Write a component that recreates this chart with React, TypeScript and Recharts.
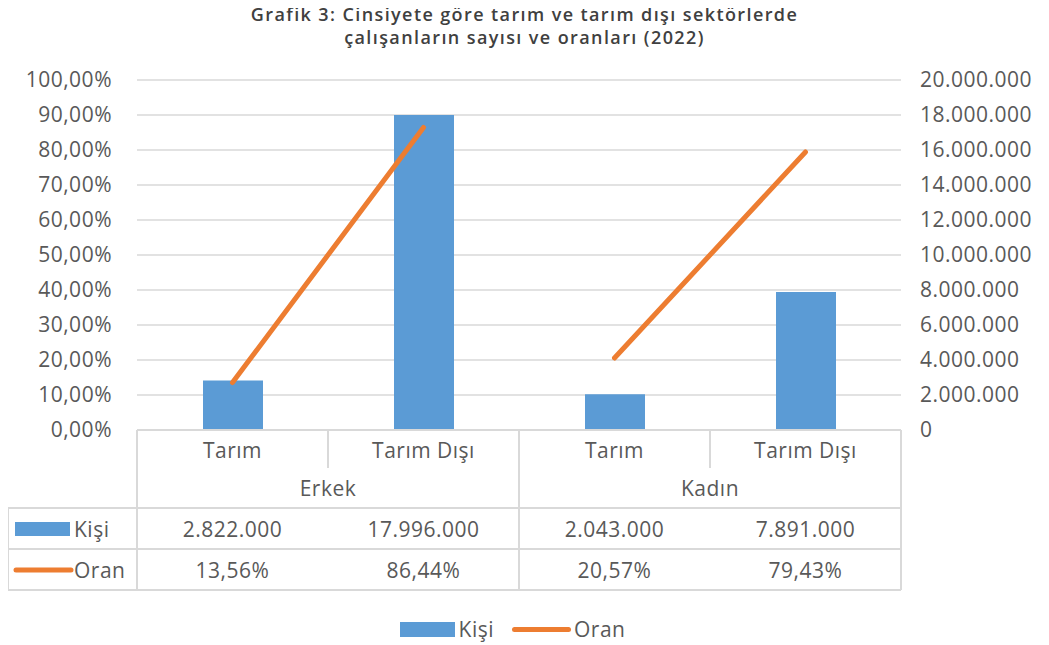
import { ComposedChart, Bar, Line, XAxis, YAxis, CartesianGrid, Legend } from 'recharts';

// chart values
const categories = ['Tarım', 'Tarım Dışı', 'Tarım', 'Tarım Dışı'];
const groups = ['Erkek', 'Erkek', 'Kadın', 'Kadın'];
const kisi = [2822000, 17996000, 2043000, 7891000];
const oran = [13.56, 86.44, 20.57, 79.43];
const pctTicks = [0, 10, 20, 30, 40, 50, 60, 70, 80, 90, 100];
const kisiTicks = [0, 2000000, 4000000, 6000000, 8000000, 10000000, 12000000, 14000000, 16000000, 18000000, 20000000];

const BLUE = '#5B9BD5';
const ORANGE = '#ED7D31';
const GRID = '#d9d9d9';
const TEXT = '#595959';
const FONT = '"Open Sans", sans-serif';

const W = 1049;
const H = 645;
const LEFT = 137;
const RIGHT = 148;
const COL_W = (W - LEFT - RIGHT) / categories.length;

const data = categories.map((c, i) => ({
  key: `${groups[i]}-${c}`,
  kisi: kisi[i],
  oranErkek: groups[i] === 'Erkek' ? oran[i] : null,
  oranKadin: groups[i] === 'Kadın' ? oran[i] : null,
}));

const dots = (n: number) => String(n).replace(/\B(?=(\d{3})+(?!\d))/g, '.');
const fmtPct = (v: number) => `${v.toFixed(2).replace('.', ',')}%`;

const txt = { fill: TEXT, fontSize: 21, fontFamily: FONT, letterSpacing: 0.5 } as const;

// draws one column of the data table under the plot
function TableTick(props: any) {
  const { x, y, index } = props;
  const i = index as number;
  const left = x - COL_W / 2;
  const right = x + COL_W / 2;
  const rows = [y + 78, y + 119, y + 160];
  return (
    <g>
      <text x={x} y={y + 20} textAnchor="middle" dominantBaseline="central" {...txt}>
        {categories[i]}
      </text>
      {i % 2 === 0 && (
        <text x={right} y={y + 58} textAnchor="middle" dominantBaseline="central" {...txt}>
          {groups[i]}
        </text>
      )}
      <line x1={right} y1={y} x2={right} y2={i % 2 === 0 ? y + 38 : y + 160} stroke={GRID} strokeWidth={2} />
      {rows.map((ry) => (
        <line key={ry} x1={left} y1={ry} x2={right} y2={ry} stroke={GRID} strokeWidth={2} />
      ))}
      <text x={x} y={y + 99} textAnchor="middle" dominantBaseline="central" {...txt}>
        {dots(kisi[i])}
      </text>
      <text x={x} y={y + 140} textAnchor="middle" dominantBaseline="central" {...txt}>
        {fmtPct(oran[i])}
      </text>
      {i === 0 && (
        <g>
          <line x1={left} y1={y} x2={left} y2={y + 160} stroke={GRID} strokeWidth={2} />
          <line x1={8} y1={y + 78} x2={8} y2={y + 160} stroke={GRID} strokeWidth={2} />
          {rows.map((ry) => (
            <line key={ry} x1={8} y1={ry} x2={left} y2={ry} stroke={GRID} strokeWidth={2} />
          ))}
          <rect x={15} y={y + 92} width={55} height={14} fill={BLUE} />
          <text x={74} y={y + 99} dominantBaseline="central" {...txt}>Kişi</text>
          <line x1={16} y1={y + 140} x2={71} y2={y + 140} stroke={ORANGE} strokeWidth={5} strokeLinecap="round" />
          <text x={74} y={y + 140} dominantBaseline="central" {...txt}>Oran</text>
        </g>
      )}
    </g>
  );
}

function BottomLegend() {
  return (
    <div
      style={{
        display: 'flex',
        justifyContent: 'center',
        alignItems: 'center',
        fontFamily: FONT,
        fontSize: 21,
        letterSpacing: 0.5,
        color: TEXT,
      }}
    >
      <span style={{ display: 'inline-block', width: 55, height: 15, background: BLUE, marginRight: 4 }} />
      <span style={{ marginRight: 18 }}>Kişi</span>
      <span style={{ display: 'inline-block', width: 59, height: 5, borderRadius: 3, background: ORANGE, marginRight: 3 }} />
      <span>Oran</span>
    </div>
  );
}

export default function App() {
  return (
    <div style={{ position: 'relative', width: W, height: H, margin: '-8px 0 0 -8px', background: '#fff' }}>
      <div
        style={{
          position: 'absolute',
          zIndex: 2,
          top: 3,
          left: 0,
          width: W,
          textAlign: 'center',
          fontFamily: FONT,
          fontWeight: 600,
          fontSize: 18,
          letterSpacing: 1.4,
          lineHeight: '23px',
          color: '#404040',
        }}
      >
        Grafik 3: Cinsiyete göre tarım ve tarım dışı sektörlerde
        <br />
        çalışanların sayısı ve oranları (2022)
      </div>
      <ComposedChart width={W} height={H} data={data} margin={{ top: 80, right: 0, bottom: 55, left: 0 }} barSize={60}>
        <CartesianGrid vertical={false} yAxisId="pct" stroke={GRID} strokeWidth={1.5} />
        <XAxis
          dataKey="key"
          interval={0}
          height={160}
          tickLine={false}
          tickSize={0}
          tickMargin={0}
          axisLine={{ stroke: GRID, strokeWidth: 2 }}
          tick={<TableTick />}
        />
        <YAxis
          yAxisId="pct"
          width={LEFT}
          domain={[0, 100]}
          ticks={pctTicks}
          tickFormatter={fmtPct}
          axisLine={false}
          tickLine={false}
          tickSize={0}
          tickMargin={25}
          tick={txt}
        />
        <YAxis
          yAxisId="kisi"
          orientation="right"
          width={RIGHT}
          domain={[0, 20000000]}
          ticks={kisiTicks}
          tickFormatter={dots}
          axisLine={false}
          tickLine={false}
          tickSize={0}
          tickMargin={19}
          tick={{ ...txt, textAnchor: 'start' }}
        />
        <Bar yAxisId="kisi" dataKey="kisi" name="Kişi" fill={BLUE} isAnimationActive={false} />
        <Line
          yAxisId="pct"
          dataKey="oranErkek"
          name="Oran"
          stroke={ORANGE}
          strokeWidth={5}
          strokeLinecap="round"
          dot={false}
          activeDot={false}
          isAnimationActive={false}
        />
        <Line
          yAxisId="pct"
          dataKey="oranKadin"
          name="Oran"
          stroke={ORANGE}
          strokeWidth={5}
          strokeLinecap="round"
          dot={false}
          activeDot={false}
          isAnimationActive={false}
        />
        <Legend
          layout="horizontal"
          verticalAlign="middle"
          align="center"
          content={<BottomLegend />}
          wrapperStyle={{ top: 615, left: -12, width: W }}
        />
      </ComposedChart>
    </div>
  );
}
